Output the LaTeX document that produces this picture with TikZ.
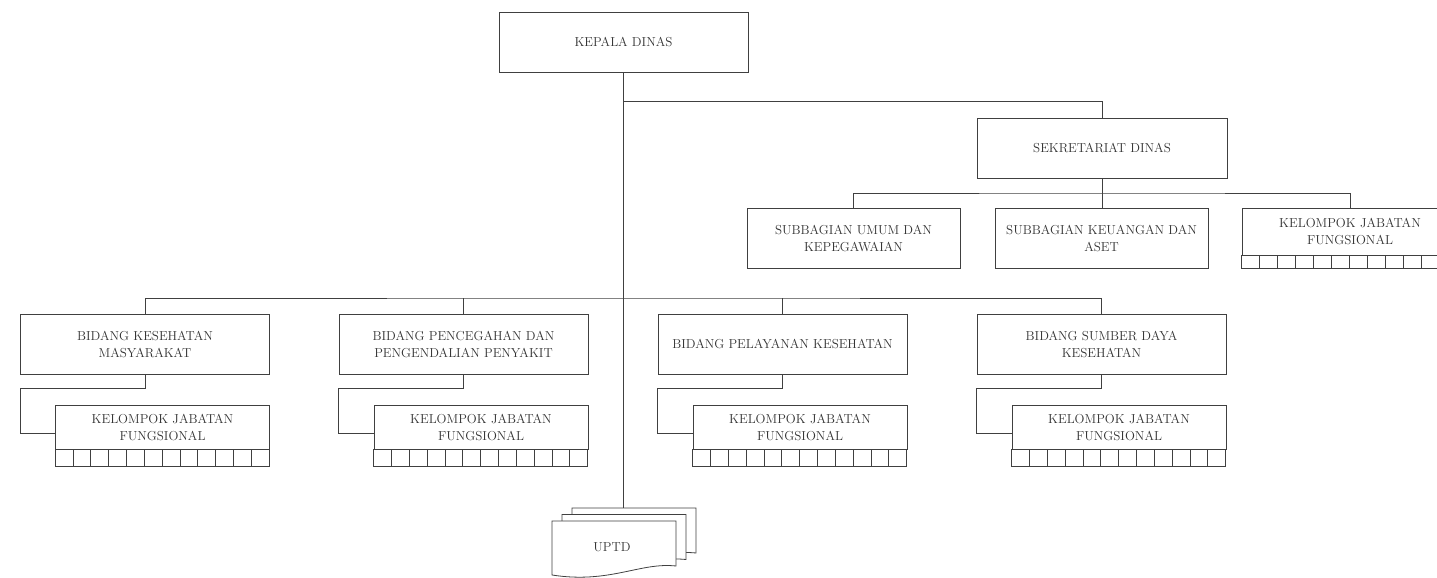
\documentclass[tikz,border=0pt]{standalone}
\usepackage{tikz}
\usetikzlibrary{positioning}
\usetikzlibrary{calc}
\newcommand{\orgfont}{\fontsize{13}{17}\selectfont}
\tikzstyle{unit}=[rectangle,draw=black!75,line width=0.8pt,align=center,inner sep=0pt,font=\orgfont,text=black!80,minimum height=60pt]
\tikzstyle{link}=[draw=black!75,line width=0.8pt]
\tikzstyle{page}=[draw=black!75,line width=0.8pt,fill=white]

\begin{document}
\begin{tikzpicture}[x=1pt,y=-1pt]

  \useasboundingbox (0,0) rectangle (1437,578);

  \def\cw{17.83};

  % kepala dan sekretariat
  \node[unit, minimum width=249pt] (kepala) at (623.5,42) {KEPALA DINAS};
  \node[unit, minimum width=250pt] (sekretariat) at (1102,148) {SEKRETARIAT DINAS};

  \foreach \x/\name/\label in {853.5/subumum/{SUBBAGIAN UMUM DAN\\KEPEGAWAIAN}, 1101.5/subkeu/{SUBBAGIAN KEUANGAN DAN\\ASET}}
          \node[unit, minimum width=213pt] (\name) at (\x,238.5) {\label};

  \node[unit, minimum width=216pt, minimum height=47pt] (kjfsek) at (1350,231.5) {KELOMPOK JABATAN\\FUNGSIONAL};
  \foreach \i in {0,...,11}
         \path[link] ($(kjfsek.south west)+(\i*18,0)$) rectangle ++(18,13);

  % bidang
  \foreach \x/\name/\label in {145/bkm/{BIDANG KESEHATAN\\MASYARAKAT}, 463.5/bppp/{BIDANG PENCEGAHAN DAN\\PENGENDALIAN PENYAKIT}, 782.5/bpk/{BIDANG PELAYANAN KESEHATAN}, 1101.5/bsdk/{BIDANG SUMBER DAYA\\KESEHATAN}}
  {
          \node[unit, minimum width=249pt] (\name) at (\x,344) {\label};
          \node[unit, minimum width=214pt, minimum height=44pt] (kjf\name) at (\x+17.5,427) {KELOMPOK JABATAN\\FUNGSIONAL};
          \foreach \i in {0,...,11}
                 \path[link] ($(kjf\name.south west)+(\i*\cw,0)$) rectangle ++(\cw,17);
          \path[link] (\name.south) -- ++(0,14) -| ($(\name.west |- kjf\name.west)+(0,6)$) -- ([yshift=-6pt]kjf\name.west);
  }

  % uptd
  \foreach \k in {2,1,0}
  {
     \begin{scope}[shift={(10*\k,-6.5*\k)}]
        \path[page] (552,521) -- (676,521) -- (676,566) .. controls (640,562) and (610,584) .. (552,575) -- cycle;
     \end{scope}
  }
  \node[font=\orgfont, text=black!80] (uptd) at (612,547) {UPTD};
  \coordinate (uptdtop) at (623.5,508);

  % garis
  \coordinate (busa) at (623.5,101);
  \coordinate (busb) at (1102,193);
  \coordinate (busc) at (623.5,298);

  \path[link] (kepala.south) -- (uptdtop);
  \path[link] (busa) -| (sekretariat.north);
  \path[link] (sekretariat.south) -- (sekretariat.south |- subkeu.north);
  \path[link] (subumum.north) |- (busb) -| (kjfsek.north);
  \path[link] (bkm.north) |- (busc) -| (bsdk.north);
  \foreach \name in {bppp, bpk}
         \path[link] (\name.north) -- (\name.north |- busc);

\end{tikzpicture}
\end{document}
